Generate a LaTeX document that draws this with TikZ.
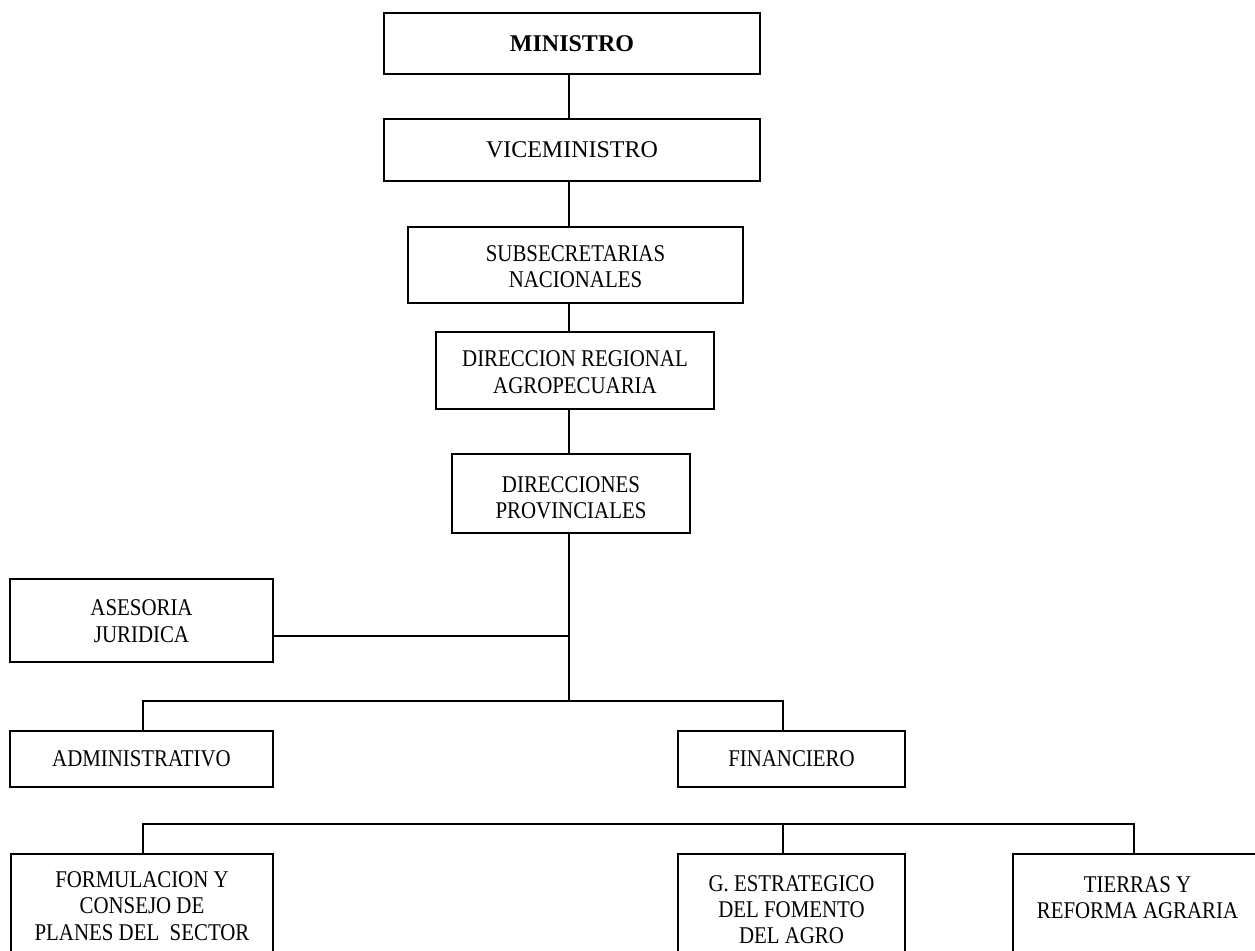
\documentclass[tikz,border=0pt]{standalone}
\usepackage{fontspec}
\usepackage{graphicx}
\setmainfont{Liberation Serif}
\newcommand\cnd[2][1.6pt]{\raisebox{-#1}[\height][\depth]{\scalebox{0.87}[1]{\begin{tabular}{@{}c@{}}#2\end{tabular}}}}
\begin{document}
\begin{tikzpicture}[x=0.5pt,y=-0.5pt,
  box/.style={draw, line width=1pt, inner sep=0pt, align=center, font=\fontsize{12}{13.2}\selectfont},
  conn/.style={line width=1pt}]
\useasboundingbox (0,0) rectangle (1255,951);
\clip (0,0) rectangle (1255,951);
\coordinate (sp) at (569,0);
\coordinate (aj) at (569,636);
\coordinate (h1l) at (143,701);
\coordinate (h1r) at (783,701);
\coordinate (h2l) at (143,824);
\coordinate (h2m) at (783,824);
\coordinate (h2r) at (1134,824);

\node[box, minimum width=188pt, minimum height=30.5pt] (mi) at (572,43.5) {\bfseries MINISTRO};
\node[box, minimum width=188pt, minimum height=31pt] (vi) at (572,150) {VICEMINISTRO};
\node[box, minimum width=167.5pt, minimum height=38pt] (su) at (575.5,265) {\cnd[2.2pt]{SUBSECRETARIAS\\NACIONALES}};
\node[box, minimum width=139pt, minimum height=38.5pt] (dr) at (575,370.5) {\cnd[2.2pt]{DIRECCION REGIONAL\\AGROPECUARIA}};
\node[box, minimum width=119pt, minimum height=39.5pt] (dp) at (571,493.5) {\cnd[3.3pt]{DIRECCIONES\\PROVINCIALES}};
\node[box, minimum width=131.5pt, minimum height=41.5pt] (as) at (141.5,620.5) {\cnd{ASESORIA\\JURIDICA}};
\node[box, minimum width=131.5pt, minimum height=28pt] (ad) at (141.5,759) {\cnd[1pt]{ADMINISTRATIVO}};
\node[box, minimum width=113.5pt, minimum height=28pt] (fi) at (791.5,759) {\cnd[1pt]{FINANCIERO}};
\node[box, minimum width=131pt, minimum height=52pt] (fo) at (142,906) {\cnd[1.2pt]{FORMULACION Y\\CONSEJO DE\\PLANES DEL\ \ SECTOR}};
\node[box, minimum width=113.5pt, minimum height=55pt] (ge) at (791.5,909) {\cnd{G. ESTRATEGICO\\DEL FOMENTO\\DEL AGRO}};
\node[box, minimum width=124.5pt, minimum height=56pt] (ti) at (1137.5,910) {\cnd{TIERRAS Y\\REFORMA AGRARIA\\\mbox{}}};

\draw[conn] (mi.south -| sp) -- (vi.north -| sp);
\draw[conn] (vi.south -| sp) -- (su.north -| sp);
\draw[conn] (su.south -| sp) -- (dr.north -| sp);
\draw[conn] (dr.south -| sp) -- (dp.north -| sp);
\draw[conn] (dp.south -| sp) -- (sp |- h1l);
\draw[conn] (aj) -- (aj -| as.east);
\draw[conn] (ad.north -| h1l) -- (h1l) -- (h1r) -- (fi.north -| h1r);
\draw[conn] (fo.north -| h2l) -- (h2l) -- (h2r) -- (ti.north -| h2r);
\draw[conn] (h2m) -- (ge.north -| h2m);
\end{tikzpicture}
\end{document}
